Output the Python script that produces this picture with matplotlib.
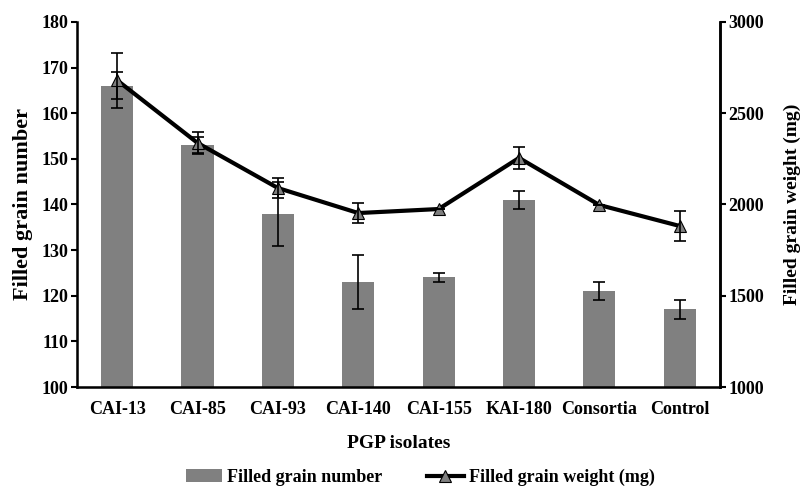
import matplotlib.pyplot as plt
import numpy as np

isolates = ['CAI-13', 'CAI-85', 'CAI-93', 'CAI-140', 'CAI-155', 'KAI-180', 'Consortia', 'Control']
grain_number = [166, 153, 138, 123, 124, 141, 121, 117]
grain_number_err = [3, 1.7, 7, 6, 1, 2, 2, 2]
grain_weight = [2680, 2337, 2090, 1953, 1975, 2255, 1997, 1882]
grain_weight_err = [150, 60, 55, 55, 0, 60, 0, 80]

plt.rcParams['font.family'] = 'Liberation Serif'
plt.rcParams['font.weight'] = 'bold'

fig = plt.figure(figsize=(8.08, 4.87), dpi=100)
ax = fig.add_axes([0.0953, 0.2053, 0.7957, 0.7497])
x = np.arange(len(isolates))

ax.bar(x, grain_number, width=0.4, color='#808080', label='Filled grain number', zorder=2)
ax.errorbar(x, grain_number, yerr=grain_number_err, fmt='none', ecolor='black',
            elinewidth=1.2, capsize=4, capthick=1.2, zorder=3)
ax.set_ylim(100, 180)
ax.set_xlim(-0.5, len(isolates) - 0.5)
ax.set_xticks(x)
ax.set_xticklabels(isolates, fontsize=13, fontweight='bold')
ax.tick_params(axis='x', length=0, pad=10)
ax.tick_params(axis='y', labelsize=13, width=1.5, length=4, pad=2)
ax.set_ylabel('Filled grain number', fontsize=16, fontweight='bold', labelpad=6)
ax.set_xlabel('PGP isolates', fontsize=14, fontweight='bold', labelpad=12)
ax.spines['top'].set_visible(False)
for s in ['left', 'bottom', 'right']:
    ax.spines[s].set_linewidth(1.8)

ax2 = ax.twinx()
ax2.plot(x, grain_weight, color='black', linewidth=3, marker='^', markersize=9,
         markerfacecolor='#7f7f7f', markeredgecolor='black', markeredgewidth=0.8,
         label='Filled grain weight (mg)', zorder=4)
ax2.errorbar(x, grain_weight, yerr=grain_weight_err, fmt='none', ecolor='black',
             elinewidth=1.2, capsize=4, capthick=1.2, zorder=5)
ax2.set_ylim(1000, 3000)
ax2.set_yticks([1000, 1500, 2000, 2500, 3000])
ax2.tick_params(axis='y', labelsize=13, width=1.5, length=4, pad=2)
ax2.set_ylabel('Filled grain weight (mg)', fontsize=14, fontweight='bold', labelpad=14)
ax2.spines['top'].set_visible(False)
ax2.spines['right'].set_linewidth(1.8)

h1, l1 = ax.get_legend_handles_labels()
h2, l2 = ax2.get_legend_handles_labels()
fig.legend(h1 + h2, l1 + l2, loc='center', ncol=2, frameon=False,
           bbox_to_anchor=(0.52, 0.02), columnspacing=2.5,
           handlelength=2.0, handletextpad=0.3, prop={'weight': 'bold', 'size': 13})

plt.savefig('out.png', dpi=100)
